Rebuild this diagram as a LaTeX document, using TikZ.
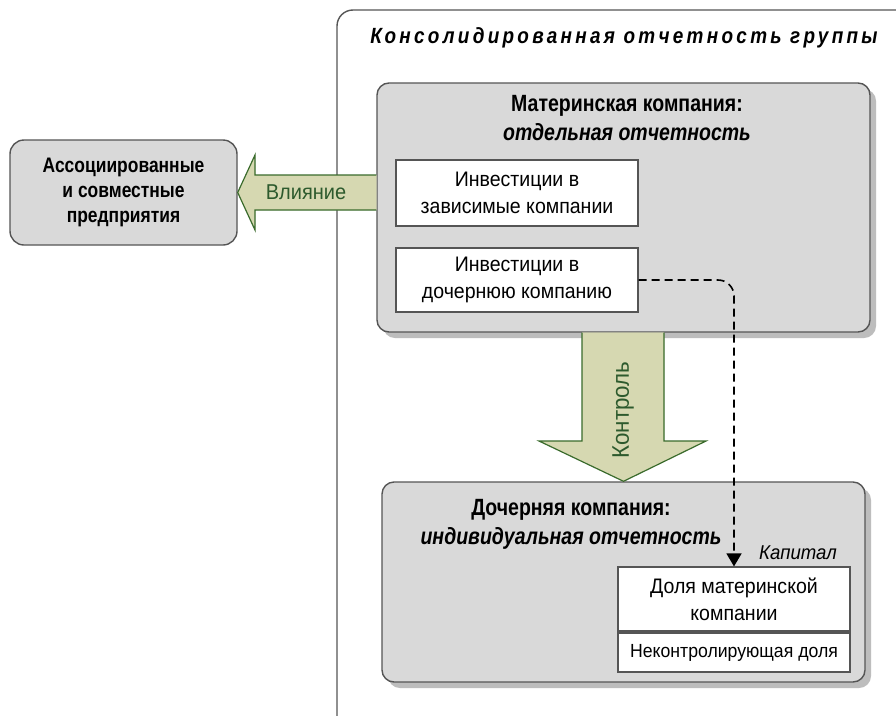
\documentclass[tikz,border=0pt]{standalone}
\usepackage{fontspec}
\setmainfont[FakeStretch=0.93]{Liberation Sans}
\newfontfamily\headfont[FakeStretch=0.83]{Liberation Sans}
\newfontfamily\titlefont[FakeStretch=0.86,LetterSpace=15]{Liberation Sans}
\usetikzlibrary{shadows,arrows.meta}
\definecolor{boxfill}{HTML}{D9D9D9}
\definecolor{boxline}{HTML}{555555}
\definecolor{shadowc}{HTML}{BDBDBD}
\definecolor{arrfill}{HTML}{D6D8B1}
\definecolor{arrline}{HTML}{3A6B2C}
\definecolor{arrtext}{HTML}{2D5A2D}
\tikzset{
  bigbox/.style={draw=boxline, line width=1.4pt, fill=boxfill, rounded corners=12pt,
    drop shadow={shadow xshift=6pt, shadow yshift=-6pt, fill=shadowc, opacity=1}},
  assocbox/.style={draw=boxline, line width=1.4pt, fill=boxfill, rounded corners=14pt,
    align=center, font=\headfont\fontsize{21}{25}\selectfont\bfseries},
  whitebox/.style={draw=boxline, line width=1.2pt, fill=white, align=center,
    inner sep=0pt, font=\fontsize{21}{27}\selectfont},
  bigarrow/.style={fill=arrfill, draw=arrline, line width=1.2pt, line join=miter},
  arrlabel/.style={text=arrtext, font=\fontsize{21.5}{25}\selectfont},
  titletext/.style={align=center, font=\headfont\fontsize{23.5}{29}\selectfont\bfseries},
  dashconn/.style={dashed, dash pattern=on 8pt off 5pt, line width=1.6pt, rounded corners=16pt,
    -{Triangle[length=13pt,width=15pt]}}
}
\begin{document}
\begin{tikzpicture}[x=1pt,y=-1pt]
\useasboundingbox (0,0) rectangle (896,715);
\fill[white] (0,0) rectangle (896,715);
% outer group frame
\begin{scope}
\clip (0,0) rectangle (896,715);
\draw[boxline, line width=1.4pt, rounded corners=16pt] (337,10) rectangle (960,780);
\end{scope}
\node[font=\titlefont\fontsize{22}{24}\selectfont\bfseries\itshape] (grp) at (624,38) {Консолидированная отчетность группы};

% parent company
\node[bigbox, minimum width=493pt, minimum height=249pt] (parent) at (623.5,207.5) {};
\node[titletext] (ptitle) at (627,118) {Материнская компания:\\\itshape отдельная отчетность};
\node[whitebox, minimum width=242pt, minimum height=66pt] (inv1) at (517,193) {Инвестиции в\\зависимые компании};
\node[whitebox, minimum width=242pt, minimum height=64pt] (inv2) at (517,280) {Инвестиции в\\дочернюю компанию};

% subsidiary
\node[bigbox, minimum width=483pt, minimum height=200pt] (sub) at (623.5,582) {};
\node[titletext] (stitle) at (571,524) {Дочерняя компания:\\\itshape индивидуальная отчетность};
\node[font=\fontsize{20}{22}\selectfont\itshape] (cap) at (798,553) {Капитал};
\node[whitebox, minimum width=232pt, minimum height=64pt] (cap1) at (734,599) {Доля материнской\\компании};
\node[whitebox, minimum width=232pt, minimum height=39pt, font=\fontsize{19}{22}\selectfont] (cap2) at (734,652.5) {Неконтролирующая доля};

% associates
\node[assocbox, minimum width=227pt, minimum height=105pt] (assoc) at (123.5,192.5) {Ассоциированные\\и совместные\\предприятия};

% influence arrow
\fill[arrfill] (parent.west |- 0,175) -- (255,175) -- (255,155) -- (assoc.east) -- (255,230) -- (255,210) -- (parent.west |- 0,210) -- cycle;
\draw[bigarrow] (parent.west |- 0,175) -- (255,175) -- (255,155) -- (assoc.east) -- (255,230) -- (255,210) -- (parent.west |- 0,210);
\node[arrlabel] (infl) at (306,192) {Влияние};

% control arrow
\fill[arrfill] (582,0 |- parent.south) -- (582,441) -- (539,441) -- (sub.north) -- (706,441) -- (664,441) -- (664,0 |- parent.south) -- cycle;
\draw[bigarrow] (582,0 |- parent.south) -- (582,441) -- (539,441) -- (sub.north) -- (706,441) -- (664,441) -- (664,0 |- parent.south);
\node[arrlabel, font=\fontsize{24}{26}\selectfont, rotate=90] (ctrl) at (623,410) {Контроль};

% dashed connector
\draw[dashconn] (inv2.east) -| (cap1.north);
\end{tikzpicture}
\end{document}
